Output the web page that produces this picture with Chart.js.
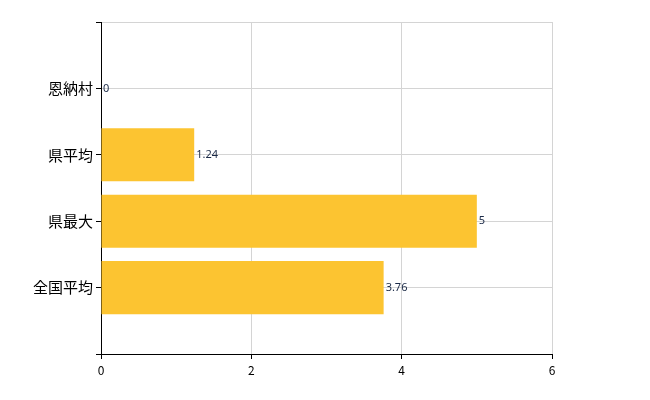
<!DOCTYPE html>
<html>
<head>
<meta charset="utf-8">
<script src="https://cdn.jsdelivr.net/npm/chart.js@4"></script>
<style>
  html, body { margin: 0; padding: 0; background: #fff; }
  #wrap { width: 650px; height: 400px; }
</style>
</head>
<body>
<div id="wrap"><canvas id="bar_chart"></canvas></div>
<script>
Chart.defaults.font.family = "'Noto Sans CJK JP', 'Noto Sans', sans-serif";
// empty slots at the ends keep the blank rows above and below the bars
const categories = ['', '恩納村', '県平均', '県最大', '全国平均', ''];
const values = [null, 0, 1.24, 5, 3.76, null];
const xTicks = [0, 2, 4, 6];
const barColor = '#fcc431';

// writes each value just past the end of its bar
const valueLabels = {
  id: 'valueLabels',
  afterDatasetsDraw(chart) {
    const ctx = chart.ctx;
    const meta = chart.getDatasetMeta(0);
    ctx.save();
    ctx.font = "11px 'Noto Sans', sans-serif";
    ctx.fillStyle = '#1c2b48';
    ctx.textAlign = 'left';
    ctx.textBaseline = 'middle';
    meta.data.forEach((bar, i) => {
      if (values[i] === null) return;
      ctx.fillText(String(values[i]), bar.x + 2, bar.y);
    });
    ctx.restore();
  },
};

const ctxBAR = document.getElementById('bar_chart');
const chart_bar = new Chart(ctxBAR, {
  type: 'bar',
  data: {
    labels: categories,
    datasets: [{
      data: values,
      backgroundColor: barColor,
      borderWidth: 0,
      categoryPercentage: 1,
      barPercentage: 0.8,
    }],
  },
  options: {
    indexAxis: 'y',
    responsive: true,
    maintainAspectRatio: false,
    animation: false,
    layout: { padding: { top: 22, right: 98, bottom: 0, left: 0 } },
    plugins: { legend: { display: false }, tooltip: { enabled: false } },
    scales: {
      x: {
        min: 0,
        max: 6,
        afterBuildTicks(scale) { scale.ticks = xTicks.map(v => ({ value: v })); },
        afterFit(scale) { scale.height = 46; },
        grid: { color: '#d4d4d4', tickColor: '#000', tickLength: 5 },
        border: { color: '#000', width: 1 },
        ticks: { color: '#000', font: { size: 12 }, padding: 4 },
      },
      y: {
        offset: false,
        afterFit(scale) { scale.width = 101; },
        grid: { offset: false, color: '#d4d4d4', tickColor: '#000', tickLength: 5 },
        border: { color: '#000', width: 1 },
        ticks: { color: '#000', font: { size: 15 }, padding: 3, autoSkip: false },
      },
    },
  },
  plugins: [valueLabels],
});
</script>
</body>
</html>
